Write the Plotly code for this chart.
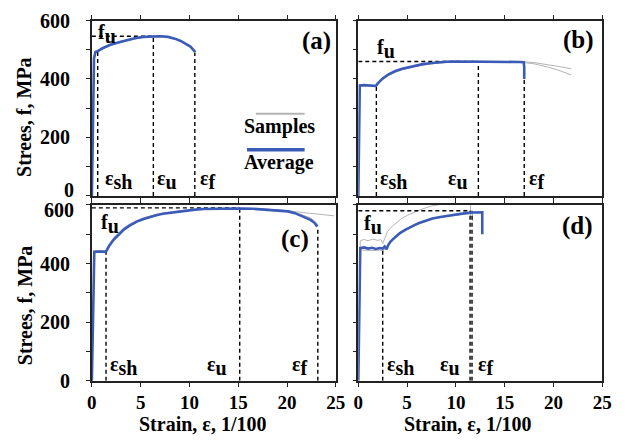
import plotly.graph_objects as go

# ---------------- data (strain in 1/100, stress in MPa) ----------------
# Panel (a)
a_avg_strain = [0, 0.12, 0.22, 0.37, 0.6, 1.1, 1.9, 2.8, 3.6, 4.4, 5.3, 6.3, 7.0, 7.8, 8.5, 9.1, 9.6, 10.1, 10.6]
a_avg_stress = [0, 300, 470, 492, 495, 505, 517, 526, 533, 539, 544, 546, 546, 544, 538, 530, 521, 511, 492]
a_s1_strain = [0, 0.12, 0.22, 0.37, 0.6, 1.1, 1.9, 2.8, 3.6, 4.4, 5.3, 6.3, 7.0, 7.8, 8.5, 9.1, 9.6, 10.1, 10.5]
a_s1_stress = [0, 300, 472, 494, 497, 507, 519, 528, 535, 540, 545, 547, 547, 545, 539, 531, 522, 512, 494]
a_s2_strain = [0, 0.12, 0.22, 0.37, 0.6, 1.1, 1.9, 2.8, 3.6, 4.4, 5.3, 6.3, 7.0, 7.8, 8.5, 9.1, 9.6, 10.1, 10.6]
a_s2_stress = [0, 300, 468, 490, 493, 503, 515, 524, 531, 537, 543, 545, 545, 543, 537, 529, 520, 510, 490]
a_marks = {"sh": (0.6, 495), "u": (6.3, 546), "f": (10.55, 490)}
a_fu = 546

# Panel (b)
b_avg_strain = [0, 0.08, 0.15, 0.6, 1.2, 1.6, 1.8, 2.0, 2.5, 3.1, 3.8, 4.5, 5.1, 5.8, 6.5, 7.3, 8.1, 9.0,
                9.8, 11.0, 12.3, 14.0, 15.5, 16.5, 16.95, 17.0, 17.0]
b_avg_stress = [0, 250, 378, 379, 378, 377, 376, 385, 402, 416, 427, 435, 440, 445, 450, 454, 457, 459,
                460, 460, 460, 460, 459, 458, 457, 440, 400]
b_s1_strain = [0, 0.08, 0.15, 0.6, 1.2, 1.7, 2.0, 2.5, 3.1, 3.8, 4.5, 5.1, 5.8, 6.5, 7.3, 8.1, 9.0,
               9.8, 11.0, 12.3, 14.0, 15.5, 16.9, 18.0, 19.5, 20.5, 21.8]
b_s1_stress = [0, 250, 380, 381, 380, 379, 386, 400, 413, 424, 432, 438, 443, 448, 452, 455, 457,
               459, 460, 461, 461, 460, 459, 456, 449, 443, 435]
b_s2_strain = [0, 0.08, 0.15, 0.6, 1.2, 1.7, 2.0, 2.5, 3.1, 3.8, 4.5, 5.1, 5.8, 6.5, 7.3, 8.1, 9.0,
               9.8, 11.0, 12.3, 14.0, 15.5, 16.9, 18.0, 19.5, 20.5, 21.8]
b_s2_stress = [0, 250, 376, 377, 376, 375, 383, 398, 411, 423, 431, 437, 442, 447, 451, 454, 456,
               458, 459, 459, 459, 458, 456, 452, 440, 430, 414]
b_marks = {"sh": (1.85, 380), "u": (12.3, 460), "f": (17.0, 457)}
b_fu = 460

# Panel (c)
c_avg_strain = [0, 0.1, 0.25, 0.8, 1.43, 1.8, 2.27, 2.8, 3.27, 3.9, 4.6, 5.3, 5.93, 6.6, 7.27, 8.1, 8.93,
                9.8, 10.6, 11.4, 12.3, 13.5, 15.15, 16.5, 17.4, 18.8, 20.1, 20.8, 21.4, 21.9, 22.4, 22.8, 23.1]
c_avg_stress = [0, 250, 440, 441, 440, 462, 483, 500, 516, 530, 543, 552, 559, 565, 570, 574, 578,
                581, 584, 586, 587, 588, 588, 587, 585, 582, 578, 572, 564, 557, 549, 539, 526]
c_s1_strain = [0, 0.1, 0.25, 0.8, 1.43, 1.8, 2.27, 2.8, 3.27, 3.9, 4.6, 5.3, 5.93, 6.6, 7.27, 8.1, 8.93,
               10.6, 12.3, 15.15, 17.4, 20.1, 21.4, 22.4, 23.1, 24.0, 24.8]
c_s1_stress = [0, 250, 443, 444, 443, 468, 490, 507, 522, 535, 547, 556, 562, 568, 572, 576, 580,
               585, 588, 589, 587, 580, 574, 571, 569, 566, 563]
c_s2_strain = [0, 0.1, 0.25, 0.8, 1.43, 1.8, 2.27, 2.8, 3.27, 3.9, 4.6, 5.3, 5.93, 6.6, 7.27, 8.1, 8.93,
               10.6, 12.3, 15.15, 17.4, 20.1, 21.4, 22.4, 23.0, 23.2]
c_s2_stress = [0, 250, 438, 439, 438, 459, 480, 498, 514, 528, 541, 551, 558, 564, 569, 573, 577,
               583, 586, 587, 586, 580, 568, 556, 540, 530]
c_marks = {"sh": (1.45, 440), "u": (15.15, 590), "f": (23.15, 526)}
c_fu = 590

# Panel (d)
d_avg_strain = [0, 0.1, 0.2, 0.6, 1.0, 1.4, 1.8, 2.2, 2.5, 2.7, 2.9, 3.05, 3.3, 3.8, 4.3, 4.8, 5.3, 5.8,
                6.3, 7.0, 7.6, 8.4, 9.3, 10.1, 11.0, 11.8, 12.6, 12.7, 12.7]
d_avg_stress = [0, 300, 453, 455, 451, 454, 450, 453, 451, 458, 449, 462, 475, 491, 505, 515, 524, 532,
                539, 547, 554, 559, 564, 568, 572, 574, 575, 575, 500]
d_s1_strain = [0, 0.1, 0.2, 0.6, 1.0, 1.5, 2.0, 2.3, 2.5, 2.7, 3.0, 3.5, 4.0, 4.5, 5.0, 5.6, 6.3, 7.0,
               7.6, 8.3, 9.0, 10.0, 11.0, 11.5, 11.5]
d_s1_stress = [0, 300, 478, 482, 478, 483, 479, 482, 468, 485, 510, 528, 543, 555, 564, 574, 583, 591,
               597, 601, 604, 607, 609, 610, 560]
d_s2_strain = [0, 0.1, 0.2, 0.8, 1.5, 2.2, 2.5, 2.8, 3.2, 3.8, 4.5, 5.3, 6.3, 7.6, 9.3, 11.0, 11.7, 11.7]
d_s2_stress = [0, 300, 447, 445, 444, 446, 443, 452, 468, 488, 506, 521, 537, 552, 562, 569, 571, 545]
d_marks = {"sh": (2.5, 453), "u": (11.45, 580), "f": (11.65, 580)}
d_fu = 580

# stress axis ticks
stress_ticks = [0, 200, 400, 600]
strain_ticks = [0, 5, 10, 15, 20, 25]

# label placement (strain, stress) for each panel
panel_letters = ["(a)", "(b)", "(c)", "(d)"]
letter_pos = [(23.0, 530), (22.55, 533), (20.85, 483), (22.47, 529)]
fu_pos = [(1.5, 554), (2.8, 502), (1.9, 535), (1.47, 532)]
eps_label_y = [54, 54, 52, 52]
eps_label_x = [
    {"sh": 2.7, "u": 7.7, "f": 11.9},
    {"sh": 3.6, "u": 10.25, "f": 18.3},
    {"sh": 3.27, "u": 12.8, "f": 21.3},
    {"sh": 4.3, "u": 9.35, "f": 13.05},
]

# ---------------- layout geometry ----------------
W, H = 625, 446
col_px = [(89, 339), (362, 612)]
row_px = [(10, 194.5), (204, 389)]

FONT = "Liberation Serif"
FS = 20
BLUE = "#3b5bb8"
GREY = "#b4b4b4"


def px_x(px):
    return px / W


def px_y(py):
    return 1 - py / H


fig = go.Figure()

panels = [
    (a_avg_strain, a_avg_stress, [(a_s1_strain, a_s1_stress), (a_s2_strain, a_s2_stress)], a_marks, a_fu),
    (b_avg_strain, b_avg_stress, [(b_s1_strain, b_s1_stress), (b_s2_strain, b_s2_stress)], b_marks, b_fu),
    (c_avg_strain, c_avg_stress, [(c_s1_strain, c_s1_stress), (c_s2_strain, c_s2_stress)], c_marks, c_fu),
    (d_avg_strain, d_avg_stress, [(d_s1_strain, d_s1_stress), (d_s2_strain, d_s2_stress)], d_marks, d_fu),
]

annotations = []
dash_style = dict(color="black", width=1.4, dash="4px,3px")
text_font = dict(family=FONT, size=FS, color="black", weight="bold")

for i, (ax_s, ay_s, samples, marks, fu) in enumerate(panels):
    n = i + 1
    xr = "x" if n == 1 else f"x{n}"
    yr = "y" if n == 1 else f"y{n}"
    # sample curves
    for sx, sy in samples:
        fig.add_trace(go.Scatter(x=sx, y=sy, mode="lines", xaxis=xr, yaxis=yr,
                                 line=dict(color=GREY, width=1), showlegend=False, hoverinfo="skip"))
    # characteristic strains (vertical dashed) and ultimate stress (horizontal dashed)
    for key in ("sh", "u", "f"):
        ex, ey = marks[key]
        fig.add_trace(go.Scatter(x=[ex, ex], y=[0, ey], mode="lines", xaxis=xr, yaxis=yr,
                                 line=dash_style, showlegend=False, hoverinfo="skip"))
    fig.add_trace(go.Scatter(x=[0, marks["u"][0]], y=[fu, fu], mode="lines", xaxis=xr, yaxis=yr,
                             line=dash_style, showlegend=False, hoverinfo="skip"))
    # average curve
    fig.add_trace(go.Scatter(x=ax_s, y=ay_s, mode="lines", xaxis=xr, yaxis=yr,
                             line=dict(color=BLUE, width=2.6), showlegend=False))

    # text labels
    sub = "<sub><span style='font-size:%dpx'>%s</span></sub>"
    annotations.append(dict(x=fu_pos[i][0], y=fu_pos[i][1], xref=xr, yref=yr, showarrow=False,
                            xanchor="center", yanchor="middle",
                            text="f" + sub % (FS, "u"), font=text_font))
    for key in ("sh", "u", "f"):
        annotations.append(dict(x=eps_label_x[i][key], y=eps_label_y[i], xref=xr, yref=yr, showarrow=False,
                                xanchor="center", yanchor="middle",
                                text="ε" + sub % (FS, key), font=text_font))
    annotations.append(dict(x=letter_pos[i][0], y=letter_pos[i][1], xref=xr, yref=yr, showarrow=False,
                            xanchor="center", yanchor="middle",
                            text=panel_letters[i], font=dict(family=FONT, size=25, color="black", weight="bold")))

# axes
axis_font = dict(family=FONT, size=FS, color="black", weight="bold")
tick_font = dict(family=FONT, size=19, color="black", weight="bold")
for i in range(4):
    n = i + 1
    col = i % 2
    row = i // 2
    x0, x1 = col_px[col]
    y0, y1 = row_px[row]
    xkey = "xaxis" if n == 1 else f"xaxis{n}"
    ykey = "yaxis" if n == 1 else f"yaxis{n}"
    # the end labels of the two stacked stress axes sit just inside the panel
    # so the "0" above and the "600" below do not collide
    if row == 0:
        ytext = ["", "200", "400", "600"]
    else:
        ytext = ["0", "200", "400", ""]
    fig.layout[xkey] = dict(
        domain=[px_x(x0), px_x(x1)], range=[0, 25], anchor="y" if n == 1 else f"y{n}",
        tickvals=strain_ticks, ticks="outside", ticklen=4, tickwidth=1, tickcolor="#222",
        showline=True, linecolor="#222", linewidth=1.5, mirror="allticks",
        showgrid=False, zeroline=False, showticklabels=(row == 1), tickfont=tick_font,
        ticklabeloverflow="allow",
    )
    fig.layout[ykey] = dict(
        domain=[px_y(y1), px_y(y0)], range=[0, 600], anchor="x" if n == 1 else f"x{n}",
        tickvals=stress_ticks, ticktext=ytext, ticks="outside", ticklen=4, tickwidth=1, tickcolor="#222",
        minor=dict(dtick=100, ticks="outside", ticklen=4, tickwidth=1, tickcolor="#222"),
        showline=True, linecolor="#222", linewidth=1.5, mirror=True,
        showgrid=False, zeroline=False, showticklabels=(col == 0), tickfont=axis_font,
        ticklabelstandoff=12, ticklabeloverflow="allow",
    )
    if col == 0:
        yr = "y" if n == 1 else f"y{n}"
        xr = "x" if n == 1 else f"x{n}"
        end_val = stress_ticks[0] if row == 0 else stress_ticks[-1]
        shift = 6 if row == 0 else -5
        annotations.append(dict(x=0, y=end_val, xref=xr, yref=yr, showarrow=False,
                                xanchor="right", yanchor="middle", xshift=-16, yshift=shift,
                                text=str(end_val), font=axis_font))

# axis titles
for yc in (112, 310):
    annotations.append(dict(x=px_x(20), y=px_y(yc), xref="paper", yref="paper", showarrow=False,
                            xanchor="center", yanchor="middle",
                            text="Strees, f, MPa", textangle=-90, font=axis_font))
for xc in (202.5, 474):
    annotations.append(dict(x=px_x(xc), y=px_y(434), xref="paper", yref="paper", showarrow=False,
                            xanchor="center", yanchor="middle",
                            text="Strain, ε, 1/100", font=axis_font))

# key inside panel (a)
annotations.append(dict(x=px_x(281), y=px_y(121), xref="paper", yref="paper", showarrow=False,
                        xanchor="center", yanchor="middle", text="Samples", font=axis_font))
annotations.append(dict(x=px_x(281), y=px_y(159), xref="paper", yref="paper", showarrow=False,
                        xanchor="center", yanchor="middle", text="Average", font=axis_font))
shapes = [
    dict(type="line", xref="paper", yref="paper", x0=px_x(257), x1=px_x(307), y0=px_y(108), y1=px_y(108),
         line=dict(color=GREY, width=2)),
    dict(type="line", xref="paper", yref="paper", x0=px_x(248), x1=px_x(307), y0=px_y(146), y1=px_y(146),
         line=dict(color=BLUE, width=3.5)),
]

fig.update_layout(
    width=W, height=H, margin=dict(l=0, r=0, t=0, b=0),
    paper_bgcolor="white", plot_bgcolor="white",
    annotations=annotations, shapes=shapes, showlegend=False,
)

fig.write_html("out.html")
